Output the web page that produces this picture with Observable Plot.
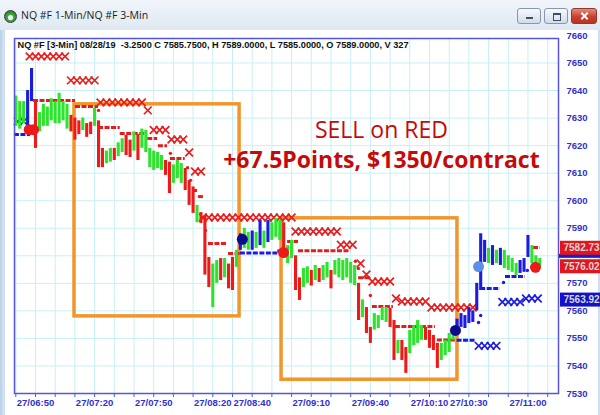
<!DOCTYPE html>
<html>
<head>
<meta charset="utf-8">
<script src="https://cdn.jsdelivr.net/npm/d3@7"></script>
<script src="https://cdn.jsdelivr.net/npm/@observablehq/plot@0.6"></script>
<style>
  html, body { margin: 0; padding: 0; background: #fff; }
  #win { position: relative; width: 600px; height: 415px; overflow: hidden;
         background: linear-gradient(90deg, #b9cfe6, #cfe0f1 3px, #cfe0f1); }
  #titlebar { position: absolute; left: 0; top: 0; width: 600px; height: 30px;
              background: linear-gradient(#f1f5fa, #dfe8f2); }
  #icon { position: absolute; left: 4px; top: 10px; width: 11px; height: 11px; border-radius: 50%;
          border: 1px solid #3a3a3a; background: radial-gradient(circle at 50% 60%, #fff 0 2px, #3fae3f 3px, #1d6a1d); }
  #title { position: absolute; left: 21px; top: 8px; font: 10.5px "Open Sans", sans-serif; color: #1b1b1b; }
  .btn { position: absolute; top: 8px; width: 24px; height: 16px; box-sizing: border-box;
         border: 1px solid #8598b0; border-radius: 3px; background: linear-gradient(#f7f9fc, #d2dce8); }
  .btn.close { width: 26px; border-color: #8e3a30; background: linear-gradient(#e68a78, #c8422e 55%, #b8321e); }
  .btn .min { position: absolute; left: 8px; top: 8px; width: 7px; height: 2px; background: #3d4f66; }
  .btn .max { position: absolute; left: 8px; top: 4px; width: 6px; height: 5px; border: 1px solid #3d4f66; border-top-width: 2px; }
  .btn.close::before, .btn.close::after { content: ""; position: absolute; left: 8px; top: 6px; width: 9px; height: 2px;
         background: #fff; transform: rotate(45deg); }
  .btn.close::after { transform: rotate(-45deg); }
  #panel { position: absolute; left: 5px; top: 30px; width: 593px; height: 385px; background: #fff; }
  #chart { position: absolute; left: 0; top: 0; }
</style>
</head>
<body>
<div id="win">
  <div id="titlebar">
    <div id="icon"></div>
    <div id="title">NQ #F 1-Min/NQ #F 3-Min</div>
    <div class="btn" style="left:517px"><span class="min"></span></div>
    <div class="btn" style="left:544px"><span class="max"></span></div>
    <div class="btn close" style="left:571px"></div>
  </div>
  <div id="panel"></div>
  <div id="chart"></div>
</div>
<script>
// Time is in minutes after 06:50 (27th); prices in NQ index points.

// 2-minute price bars
const barMinute = [-10,-8,-6,-4,-2,0,2,4,6,8, 10,12,14,16,18,20,22,24,26,28,
  30,32,34,36,38,40,42,44,46,48, 50,52,54,56,58,60,62,64,66,68,
  70,72,74,76,78,80,82,84,86,88, 90,92,94,96,98,100,102,104,106,108,
  110,112,114,116,118,120,122,124,126,128, 130,132,134,136,138,140,142,144,146,148,
  150,152,154,156,158,160,162,164,166,168, 170,172,174,176,178,180,182,184,186,188,
  190,192,194,196,198,200,202,204,206,208, 210,212,214,216,218,220,222,224,226,228,
  230,232,234,236,238,240,242,244,246,248, 250,252,254,256];
const barHigh = [7638,7636,7636,7640,7648,7636,7632,7635,7634,7637,
  7636,7639,7636,7635,7631,7630,7629,7630,7628,7628.5,
  7633.5,7629,7619,7618,7619,7619,7621,7622.5,7623.7,7622,
  7625,7624,7626,7625.5,7619,7618,7617.5,7616.4,7614.6,7614,
  7613,7614.6,7613.5,7611.7,7607.3,7605,7598.3,7595.7,7594.6,7579.4,
  7577,7578.3,7579,7579,7577,7579.4,7582,7588,7590,7588.5,
  7589,7588.5,7592.8,7589,7592.8,7592,7593.5,7592.8,7592,7583.7,
  7585.6,7580,7572,7575.4,7576,7574.7,7576.5,7575.4,7576.5,7577.6,
  7574.7,7578.3,7579,7578.3,7579,7577.6,7576.5,7570,7564,7561.2,
  7554,7559,7558.3,7561.2,7561.2,7560.9,7556.5,7549.3,7549.3,7546.7,
  7552.9,7554.7,7556.5,7554.7,7554,7552.9,7551.1,7548.2,7548.2,7549.3,
  7551.8,7554,7557,7559,7558.3,7561.2,7560,7570,7588,7585.6,
  7582.7,7583.7,7582,7582.7,7582,7580,7579,7577.2,7578.3,7579,
  7587.4,7583.7,7580,7579];
const barLow = [7627,7626,7628,7627,7636,7619,7625,7627,7627,7629,
  7628,7628,7629,7626,7625,7622,7624,7625.5,7623,7624,
  7627,7612,7612,7613.5,7614,7614.6,7616,7617.5,7616.4,7615.7,
  7618,7614.6,7619,7617.5,7612,7611,7611.7,7611,7609.2,7602.6,
  7606.3,7608,7606.3,7603.7,7598.3,7595.4,7592,7591.7,7573,7568.5,
  7561.2,7570,7571,7572,7568,7567.4,7575.8,7582,7582.7,7582,
  7582,7582.7,7583.7,7582.7,7584.8,7585.6,7586.7,7585.6,7580.8,7577.2,
  7579,7567.4,7563.8,7568.5,7570,7569,7571,7570.3,7571,7572,
  7568,7573,7572,7571,7572,7570,7569.2,7556.5,7557.6,7551.8,
  7548.2,7553,7553.6,7556.5,7555.8,7554,7542,7544.5,7542,7537.3,
  7544.5,7547.4,7548.2,7549.3,7549.3,7546.4,7545.6,7539.1,7542,7543.8,
  7544.9,7549.3,7551.8,7554,7553.6,7555.4,7555.8,7560,7567.4,7577.6,
  7577.2,7576.5,7577.2,7576.5,7575.4,7574.7,7574,7572.9,7573.6,7574,
  7579.4,7577.2,7576.5,7576];
// g = up bar, r = down bar, b = bar painted in long-trend blue
const barSide = ("g g g b b r g g g g  g g g g r r r g r r  g r r g g r g g r r  g r g g g g g g r r  " +
  "g g g r r r g r r r  g g r g r r g b g g  b g b g b g g g r g  g r r g g r g r g g  " +
  "r g g g g g g r g r  r g g g g r r g r r  g g g g r r r r g g  g g b b b b b b b b  " +
  "g b g b g g g g b b  b g g g").trim().split(/\s+/);

// Trailing-stop markers (one "x" per 3-minute bar): level, first bar, last bar
const redXLevel = [7652.4,7643.7,7635.7,7632.8,7625.7,7622.2,7617.5,7610.6,7593.9,7588.8,7584,7577.2,7573.2,7570.7,7564.5,7563.4,7561.2];
const redXFirst = [-3,18,33,57,60,69,78,81,85,132,155,165,168,171,183,186,201];
const redXLast  = [15,30,54,57,66,75,78,84,130,153,161,165,168,180,183,198,222];
const blueXLevel = [7628.8,7547.3,7563.2,7564.5];
const blueXFirst = [-9,225,237,249];
const blueXLast  = [-6,234,246,255];

// Stop dash segments: level, from, to
const redDashLevel = [7636.4,7634.2,7626.6,7624.4,7622.6,7620,7615.3,7603.7,7601.5,7584.5,7580.8,7585.2,7581.8,7572,7561.6,7554.3,7549.4,7583];
const redDashFrom  = [-1,20.3,32,43,57,62.4,68.5,79.7,82.7,87.8,98,128,133.5,164,171,182.7,204,252.8];
const redDashTo    = [20.3,32,43,56,62,67,76,82.7,85.3,97.5,104,133.5,160,170,181.7,203,213.2,256.3];
const blueDashLevel = [7624,7581,7581.7,7549.3,7568.1,7572.5];
const blueDashFrom  = [-10.7,104,123,214,226,238.6];
const blueDashTo    = [-2.5,123,127,223.4,236,248.7];

// Single stop dots
const redDotMinute = [32,68.5,77.2,78.7,86.3,162.4,163.9,170];
const redDotPrice  = [7632.8,7617.2,7612,7607.4,7589.2,7578,7575.4,7565.6];
const blueDotMinute = [224.9,226,237.6,249.7];
const blueDotPrice  = [7555.8,7558.3,7570.3,7574.7];

// Entry / exit signals
const signalMinute = [-3.2,-1,105,125.9,213.2,224.9,253.8];
const signalPrice  = [7625.8,7625.8,7586,7581.2,7552.9,7576.1,7575.8];
const signalColor  = ["#ee1a1a","#ee1a1a","#0c0c8a","#ee1a1a","#0c0c8a","#5a8fea","#ee1a1a"];

// Short trades
const tradeFrom = [19.8,124.9];
const tradeTo   = [103.6,214.2];
const tradeHigh = [7635,7593.6];
const tradeLow  = [7558,7535];

// Notes
const noteText   = ["SELL on RED","+67.5Points, $1350/contract"];
const noteMinute = [175.6,175.6];
const notePrice  = [7625.5,7614.6];

// Axes
const gridMinute = [-10,0,10,20,30,40,50,60,70,80,90,100,110,120,130,140,150,160,170,180,190,200,210,220,230,240,250,260];
const tickMinute = [0,30,60,90,110,140,170,200,220,250];
const tickLabel  = ["27/06:50","27/07:20","27/07:50","27/08:20","27/08:40","27/09:10","27/09:40","27/10:10","27/10:30","27/11:00"];
const priceTicks = [7530,7540,7550,7560,7570,7580,7590,7600,7610,7620,7630,7640,7650,7660];

// Last-value tags on the price scale
const tagValue = [7582.73,7576.02,7563.92];
const tagColor = ["#e3161e","#e3161e","#1212c8"];
const tagSeparator = [7579.8];

const header = "NQ #F [3-Min] 08/28/19  -3.2500 C 7585.7500, H 7589.0000, L 7585.0000, O 7589.0000, V 327";

// ---- tables built from the arrays above ----
const sideColor = {g: "#2ce42c", r: "#ee1a1a", b: "#1c1ce0"};
const bars = barMinute.map((t, i) => ({t, hi: barHigh[i], lo: barLow[i], c: sideColor[barSide[i]]}));

function expandX(levels, first, last, color) {
  const out = [];
  levels.forEach((p, i) => { for (let t = first[i]; t <= last[i]; t += 3) out.push({t, p, c: color}); });
  return out;
}
const xMarks = expandX(redXLevel, redXFirst, redXLast, "#e81e1e")
  .concat(expandX(blueXLevel, blueXFirst, blueXLast, "#1c1ce0"));

const dashes = redDashLevel.map((p, i) => ({p, t1: redDashFrom[i], t2: redDashTo[i], c: "#e41c1c"}))
  .concat(blueDashLevel.map((p, i) => ({p, t1: blueDashFrom[i], t2: blueDashTo[i], c: "#1c1ce0"})));

const smallDots = redDotMinute.map((t, i) => ({t, p: redDotPrice[i], c: "#e41c1c"}))
  .concat(blueDotMinute.map((t, i) => ({t, p: blueDotPrice[i], c: "#1c1ce0"})));

const signals = signalMinute.map((t, i) => ({t, p: signalPrice[i], c: signalColor[i]}));
const trades = tradeFrom.map((t1, i) => ({t1, t2: tradeTo[i], hi: tradeHigh[i], lo: tradeLow[i]}));
const notes = noteText.map((s, i) => ({s, t: noteMinute[i], p: notePrice[i]}));
const tags = tagValue.map((v, i) => ({v, c: tagColor[i]}));
const labelOf = new Map(tickMinute.map((m, i) => [m, tickLabel[i]]));
// the price label hidden behind the tags is not printed
const visibleTicks = priceTicks.filter(p => !tagValue.some(v => v > p && v - p < 3));

const xMax = 265.5;
const axisBlue = "#5656d8";
const labelBlue = "#3030d0";
const gridColor = "#c6f1f4";

const chart = Plot.plot({
  width: 600,
  height: 415,
  marginLeft: 14,
  marginRight: 42,
  marginTop: 38,
  marginBottom: 22,
  x: {domain: [-10.66, xMax]},
  y: {domain: [7530, 7658.9], axis: null},
  color: {type: "identity"},
  style: {background: "transparent", fontFamily: "'Liberation Sans', Arial, sans-serif", overflow: "visible"},
  marks: [
    Plot.ruleX(gridMinute, {stroke: gridColor}),
    Plot.ruleY(priceTicks.slice(1, -1), {stroke: gridColor}),
    Plot.rect(trades, {x1: "t1", x2: "t2", y1: "lo", y2: "hi", fill: "none", stroke: "#f0962c", strokeWidth: 3.5}),
    Plot.ruleY(dashes, {y: "p", x1: "t1", x2: "t2", stroke: "c", strokeWidth: 3, strokeDasharray: "5,1.5"}),
    Plot.dot(xMarks, {x: "t", y: "p", symbol: "times", r: 3.6, stroke: "c", strokeWidth: 1.7}),
    Plot.dot(smallDots, {x: "t", y: "p", r: 1.7, fill: "c"}),
    Plot.ruleX(bars, {x: "t", y1: "lo", y2: "hi", stroke: "c", strokeWidth: 3.1}),
    Plot.dot(signals, {x: "t", y: "p", r: 5.5, fill: "c"}),
    Plot.frame({stroke: axisBlue, strokeWidth: 1.5}),
    Plot.axisX({ticks: gridMinute, tickSize: 4, tickPadding: 2, tickFormat: d => labelOf.get(d) ?? "",
      stroke: axisBlue, fill: labelBlue, fontWeight: "bold", fontSize: 9.5}),
    Plot.text(visibleTicks, {y: d => d, frameAnchor: "right", dx: 8, textAnchor: "start",
      text: d => String(d), fill: labelBlue, fontWeight: "bold", fontSize: 9.5}),
    Plot.rect(tagSeparator, {x1: () => xMax, x2: () => xMax, y1: d => d, y2: d => d, fill: "#1a1ad0",
      insetLeft: 1, insetRight: -50, insetTop: -2, insetBottom: -2}),
    Plot.rect(tags, {x1: () => xMax, x2: () => xMax, y1: "v", y2: "v", fill: "c",
      insetLeft: 2, insetRight: -50, insetTop: -7, insetBottom: -7}),
    Plot.text(tags, {y: "v", frameAnchor: "right", dx: 5, textAnchor: "start",
      text: d => d.v.toFixed(2), fill: "#d9d9d9", fontWeight: "bold", fontSize: 10}),
    Plot.text([header], {frameAnchor: "top-left", dx: 3, dy: 7, lineAnchor: "middle", textAnchor: "start",
      fontWeight: "bold", fontSize: 9.2, fill: "#111"}),
    Plot.text(notes.slice(0, 1), {x: "t", y: "p", text: "s", fontSize: 23, fill: "#c40a0a",
      fontFamily: "'Open Sans', sans-serif", lineAnchor: "middle"}),
    Plot.text(notes.slice(1), {x: "t", y: "p", text: "s", fontSize: 23, fontWeight: "bold", fill: "#c40a0a",
      fontFamily: "'Open Sans', sans-serif", lineAnchor: "middle"})
  ]
});

document.getElementById("chart").append(chart);
</script>
</body>
</html>
